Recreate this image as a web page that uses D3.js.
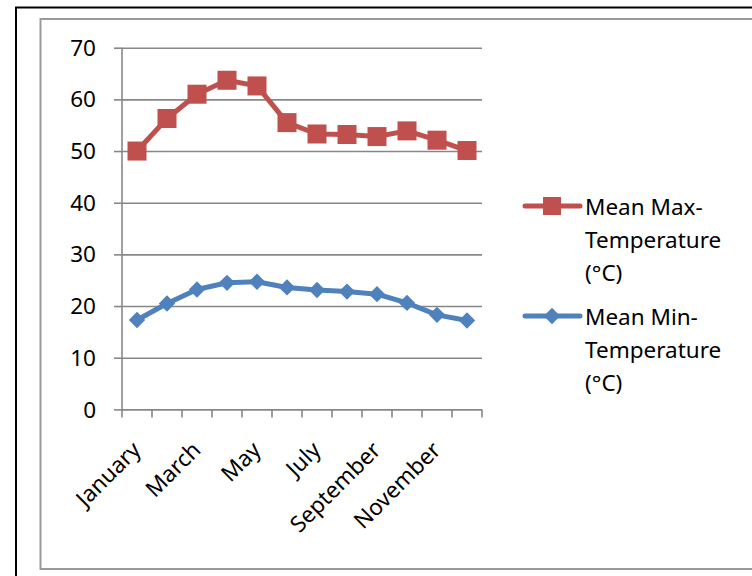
<!DOCTYPE html>
<html>
<head>
<meta charset="utf-8">
<script src="https://cdn.jsdelivr.net/npm/d3@7"></script>
<style>
  body { margin: 0; background: #fff; }
  svg text { font-family: "Noto Sans", Lato, sans-serif; fill: #000; }
</style>
</head>
<body>
<svg width="752" height="576"></svg>
<script>
// data
let months = ["January", "February", "March", "April", "May", "June",
  "July", "August", "September", "October", "November", "December"];
let maxTemp = [50.0, 56.3, 61.0, 63.7, 62.6, 55.5, 53.3, 53.2, 52.8, 53.9, 52.1, 50.1];
let minTemp = [17.3, 20.5, 23.2, 24.5, 24.7, 23.6, 23.1, 22.8, 22.3, 20.6, 18.3, 17.2];
let yTicks = [0, 10, 20, 30, 40, 50, 60, 70];
let seriesNames = [["Mean Max-", "Temperature", "(°C)"], ["Mean Min-", "Temperature", "(°C)"]];

let svg = d3.select("svg");

// frame borders (run off the right / bottom like the screenshot)
svg.append("rect")
  .attr("x", 16).attr("y", 7.5)
  .attr("width", 800).attr("height", 640)
  .attr("fill", "none").attr("stroke", "#000").attr("stroke-width", 2);
svg.append("rect")
  .attr("x", 40.5).attr("y", 19)
  .attr("width", 800).attr("height", 550)
  .attr("fill", "none").attr("stroke", "#999").attr("stroke-width", 2);

let x = d3.scaleBand().domain(months).range([122, 482]);
let y = d3.scaleLinear().domain([0, 70]).range([409.4, 47.7]);

let gridColor = "#878787";
let fontSize = 22.5;

// gridlines + left tick marks
let grid = svg.append("g")
  .attr("transform", "translate(122,0)")
  .call(d3.axisLeft(y).tickValues(yTicks).tickSize(8).tickFormat(""));
grid.select(".domain").remove();
grid.selectAll(".tick line").clone()
  .attr("x2", 360);
grid.selectAll("line").attr("stroke", gridColor).attr("stroke-width", 1.6);

// y tick labels
svg.append("g").selectAll("text")
  .data(yTicks)
  .join("text")
    .attr("x", 96)
    .attr("y", d => y(d))
    .attr("dy", "0.36em")
    .attr("text-anchor", "end")
    .attr("font-size", fontSize)
    .text(d => d);

// y axis line
svg.append("line")
  .attr("x1", 122).attr("x2", 122)
  .attr("y1", y(70)).attr("y2", y(0))
  .attr("stroke", gridColor).attr("stroke-width", 1.6);

// x tick marks at category boundaries
let bounds = d3.range(months.length + 1).map(i => x.range()[0] + i * x.step());
svg.append("g").selectAll("line")
  .data(bounds)
  .join("line")
    .attr("x1", d => d).attr("x2", d => d)
    .attr("y1", y(0)).attr("y2", y(0) + 8)
    .attr("stroke", gridColor).attr("stroke-width", 1.6);

// x labels, every other month, rotated
svg.append("g").selectAll("text")
  .data(months.filter((d, i) => i % 2 == 0))
  .join("text")
    .attr("transform", d => "translate(" + (x(d) + x.bandwidth() / 2 + 5) + "," + (y(0) + 42) + ") rotate(-45)")
    .attr("text-anchor", "end")
    .attr("font-size", fontSize)
    .text(d => d);

// series
let lineGen = d3.line()
  .x((d, i) => x(months[i]) + x.bandwidth() / 2)
  .y(d => y(d));

let red = "#C0504D", blue = "#4F81BD";

svg.append("path")
  .attr("d", lineGen(maxTemp))
  .attr("fill", "none").attr("stroke", red)
  .attr("stroke-width", 5).attr("stroke-linejoin", "round");
svg.append("g").selectAll("rect")
  .data(maxTemp)
  .join("rect")
    .attr("x", (d, i) => x(months[i]) + x.bandwidth() / 2 - 9.5)
    .attr("y", d => y(d) - 9.5)
    .attr("width", 19).attr("height", 19)
    .attr("fill", red);

svg.append("path")
  .attr("d", lineGen(minTemp))
  .attr("fill", "none").attr("stroke", blue)
  .attr("stroke-width", 5).attr("stroke-linejoin", "round");
let diamond = d3.symbol().type(d3.symbolDiamond2).size(170);
svg.append("g").selectAll("path")
  .data(minTemp)
  .join("path")
    .attr("transform", (d, i) => "translate(" + (x(months[i]) + x.bandwidth() / 2) + "," + y(d) + ")")
    .attr("d", diamond)
    .attr("fill", blue);

// legend
let legend = svg.append("g").selectAll("g")
  .data(seriesNames)
  .join("g")
    .attr("transform", (d, i) => "translate(525," + (206 + i * 110) + ")");
legend.append("line")
  .attr("x1", 0).attr("x2", 55)
  .attr("stroke", (d, i) => i == 0 ? red : blue)
  .attr("stroke-width", 5).attr("stroke-linecap", "round");
legend.filter((d, i) => i == 0).append("rect")
  .attr("x", 18).attr("y", -9).attr("width", 18).attr("height", 18)
  .attr("fill", red);
legend.filter((d, i) => i == 1).append("path")
  .attr("transform", "translate(27,0)")
  .attr("d", diamond)
  .attr("fill", blue);
legend.append("text")
  .attr("font-size", fontSize)
  .selectAll("tspan")
  .data(d => d)
  .join("tspan")
    .attr("x", 60)
    .attr("y", (d, i) => 9 + i * 33)
    .text(d => d);
</script>
</body>
</html>
